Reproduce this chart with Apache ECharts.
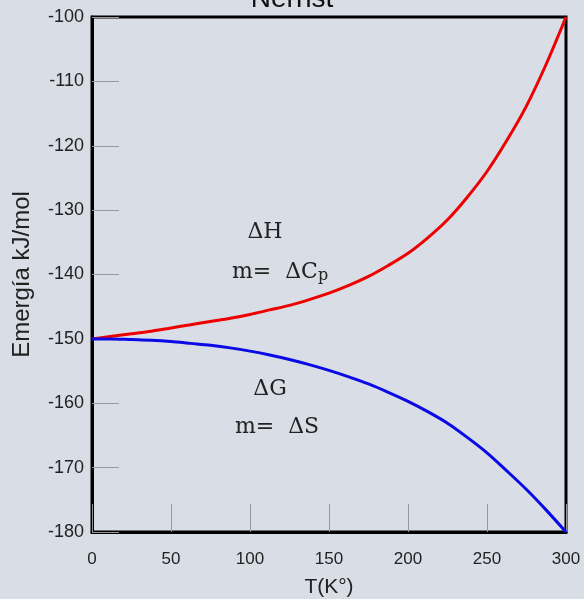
<!DOCTYPE html>
<html>
<head>
<meta charset="utf-8">
<script src="https://cdn.jsdelivr.net/npm/echarts@6/dist/echarts.min.js"></script>
<style>
    html, body { margin: 0; padding: 0; background: #d8dde6; }
    #chart { width: 584px; height: 599px; }
</style>
</head>
<body>
<div id="chart"></div>
<script>
// temperaturas (K)
var temps = [0, 12.5, 25, 37.5, 50, 62.5, 75, 87.5, 100, 112.5, 125, 137.5, 150,
    162.5, 175, 187.5, 200, 212.5, 225, 237.5, 250, 262.5, 275, 287.5, 300];
// ΔH (rojo)
var deltaH = [-150, -149.6, -149.2, -148.8, -148.3, -147.8, -147.3, -146.8, -146.2, -145.5, -144.8, -143.9, -142.9,
    -141.7, -140.3, -138.6, -136.7, -134.3, -131.5, -128.0, -124.0, -119.2, -113.8, -107.3, -100];
// ΔG (azul)
var deltaG = [-150, -150.0, -150.1, -150.2, -150.4, -150.7, -151.0, -151.4, -151.9, -152.5, -153.2, -154.0, -154.9,
    -155.9, -157.0, -158.3, -159.7, -161.3, -163.1, -165.3, -167.7, -170.5, -173.4, -176.6, -180];

var dataH = [];
var dataG = [];
for (var i = 0; i < temps.length; i++) {
    dataH.push([temps[i], deltaH[i]]);
    dataG.push([temps[i], deltaG[i]]);
}

var chart = echarts.init(document.getElementById('chart'));
var option = {
    backgroundColor: '#d8dde6',
    animation: false,
    title: {
        text: 'Nernst',
        left: 'center',
        top: -20,
        textStyle: {fontFamily: 'Liberation Sans', fontSize: 28, fontWeight: 'normal', color: '#111'}
    },
    grid: {
        left: 92,
        right: 18,
        top: 17,
        bottom: 67,
        outerBoundsMode: 'none',
        containLabel: false,
        show: true,
        borderColor: '#000',
        borderWidth: 3,
        backgroundColor: 'transparent'
    },
    xAxis: {
        type: 'value',
        min: 0,
        max: 300,
        interval: 50,
        name: 'T(K°)',
        nameLocation: 'middle',
        nameGap: 45,
        nameTextStyle: {fontFamily: 'Liberation Sans', fontSize: 21, color: '#222'},
        axisLine: {lineStyle: {color: '#000', width: 3}},
        axisTick: {inside: true, length: 28, lineStyle: {color: '#999', width: 1}},
        axisLabel: {fontFamily: 'Liberation Sans', fontSize: 17, color: '#222', margin: 19},
        splitLine: {show: false}
    },
    yAxis: {
        type: 'value',
        min: -180,
        max: -100,
        interval: 10,
        name: 'Emergía kJ/mol',
        nameLocation: 'middle',
        nameGap: 58,
        nameTextStyle: {fontFamily: 'Liberation Sans', fontSize: 24, color: '#222'},
        axisLine: {lineStyle: {color: '#000', width: 3}},
        axisTick: {inside: true, length: 27, lineStyle: {color: '#999', width: 1}},
        axisLabel: {fontFamily: 'Liberation Sans', fontSize: 18, color: '#222', margin: 8},
        splitLine: {show: false}
    },
    series: [
        {
            name: 'ΔH',
            type: 'line',
            smooth: 0.3,
            showSymbol: false,
            data: dataH,
            lineStyle: {color: '#ee0000', width: 3}
        },
        {
            name: 'ΔG',
            type: 'line',
            smooth: 0.3,
            showSymbol: false,
            data: dataG,
            lineStyle: {color: '#0a0ae6', width: 3}
        }
    ],
    graphic: [
        {type: 'text', x: 265, y: 232, style: {text: 'ΔH', font: '22px "DejaVu Serif"', fill: '#222', align: 'center', verticalAlign: 'middle'}},
        {type: 'text', x: 280, y: 272, style: {
            text: 'm=  ΔC{sub|p}', font: '22px "DejaVu Serif"', fill: '#222', align: 'center', verticalAlign: 'middle',
            rich: {sub: {fontSize: 16, fontFamily: 'DejaVu Serif', fill: '#222', padding: [8, 0, 0, 0]}}
        }},
        {type: 'text', x: 270, y: 389, style: {text: 'ΔG', font: '22px "DejaVu Serif"', fill: '#222', align: 'center', verticalAlign: 'middle'}},
        {type: 'text', x: 277, y: 427, style: {text: 'm=  ΔS', font: '22px "DejaVu Serif"', fill: '#222', align: 'center', verticalAlign: 'middle'}}
    ]
};
chart.setOption(option);
</script>
</body>
</html>
